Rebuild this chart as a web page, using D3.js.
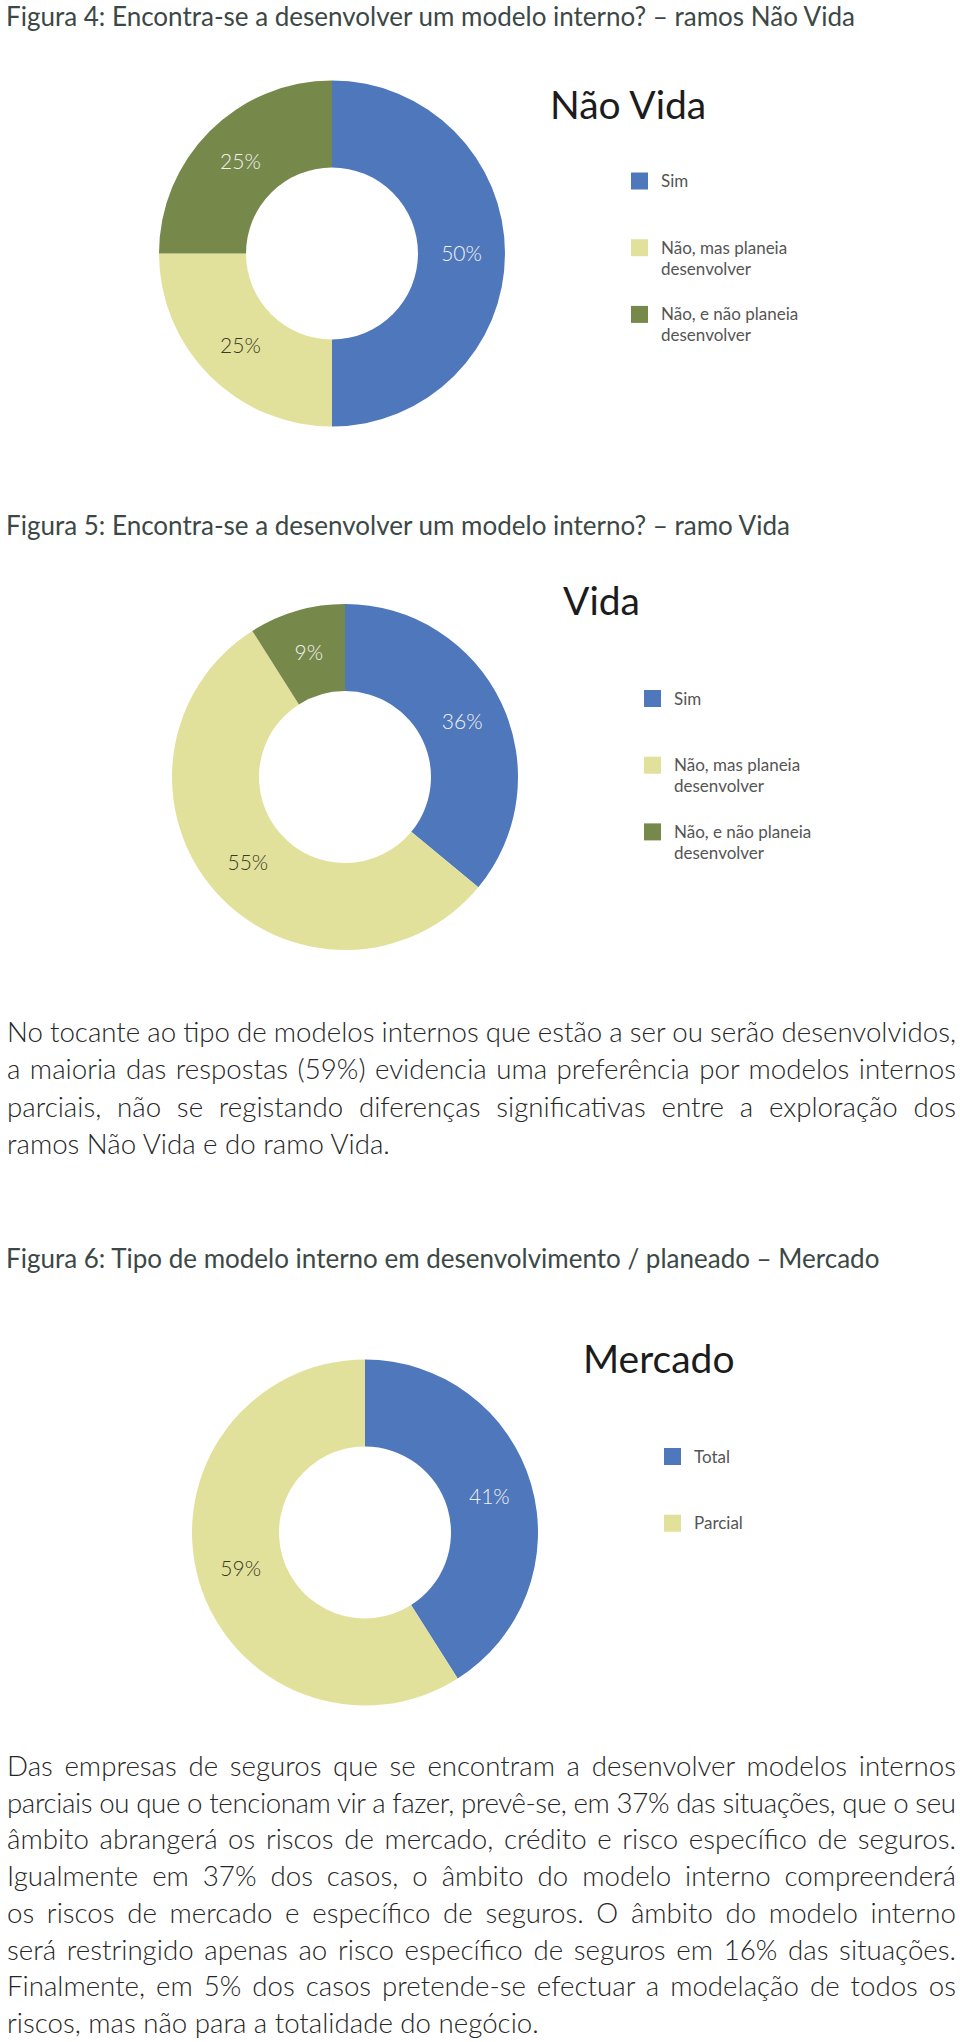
<!DOCTYPE html>
<html>
<head>
<meta charset="utf-8">
<script src="https://cdn.jsdelivr.net/npm/d3@7"></script>
<style>
  body { margin: 0; background: #fff; }
  svg text { font-family: Lato, "Open Sans", sans-serif; }
</style>
</head>
<body>
<svg id="page" width="960" height="2042"></svg>
<script>
// figure captions and chart titles
const captions = [
  "Figura 4: Encontra-se a desenvolver um modelo interno? – ramos Não Vida",
  "Figura 5: Encontra-se a desenvolver um modelo interno? – ramo Vida",
  "Figura 6: Tipo de modelo interno em desenvolvimento / planeado – Mercado"
];
const chartTitles = ["Não Vida", "Vida", "Mercado"];

// categories + values
const answerCategories = ["Sim", "Não, mas planeia desenvolver", "Não, e não planeia desenvolver"];
const naoVidaValues = [50, 25, 25];
const vidaValues = [36, 55, 9];
const modelCategories = ["Total", "Parcial"];
const mercadoValues = [41, 59];

const colors = ["#4f77bb", "#e2e19b", "#76884a"];

// body text, one entry per printed line
const paragraph1 = [
  "No tocante ao tipo de modelos internos que estão a ser ou serão desenvolvidos,",
  "a maioria das respostas (59%) evidencia uma preferência por modelos internos",
  "parciais, não se registando diferenças significativas entre a exploração dos",
  "ramos Não Vida e do ramo Vida."
];
const paragraph2 = [
  "Das empresas de seguros que se encontram a desenvolver modelos internos",
  "parciais ou que o tencionam vir a fazer, prevê-se, em 37% das situações, que o seu",
  "âmbito abrangerá os riscos de mercado, crédito e risco específico de seguros.",
  "Igualmente em 37% dos casos, o âmbito do modelo interno compreenderá",
  "os riscos de mercado e específico de seguros. O âmbito do modelo interno",
  "será restringido apenas ao risco específico de seguros em 16% das situações.",
  "Finalmente, em 5% dos casos pretende-se efectuar a modelação de todos os",
  "riscos, mas não para a totalidade do negócio."
];

const svg = d3.select("#page");

// scale a font size so that the given text gets the width seen in the print
function fitSize(text, size, weight, target) {
  const t = svg.append("text").attr("font-size", size).attr("font-weight", weight).text(text);
  const w = t.node().getComputedTextLength();
  t.remove();
  return size * target / w;
}

const captionSize = fitSize(captions[0], 24, 400, 849);
const bodySize = fitSize(paragraph1[3], 24, 300, 383);

const captionY = [26, 535, 1268];
svg.selectAll(".caption")
  .data(captions)
  .join("text")
  .attr("class", "caption")
  .attr("x", 6)
  .attr("y", (d, i) => captionY[i])
  .attr("font-size", captionSize)
  .attr("fill", "#3c4846")
  .text(d => d);

// layout of each donut block
const charts = [
  { title: chartTitles[0], cats: answerCategories, values: naoVidaValues, cx: 332, cy: 253.5, titleDy: -134.5, legendDy: -81 },
  { title: chartTitles[1], cats: answerCategories, values: vidaValues, cx: 345, cy: 777, titleDy: -162, legendDy: -87 },
  { title: chartTitles[2], cats: modelCategories, values: mercadoValues, cx: 365, cy: 1532.5, titleDy: -159.5, legendDy: -84.5 }
];

const arc = d3.arc().innerRadius(86).outerRadius(173);
const pie = d3.pie().sort(null).value(d => d.value);

function wrap(textSel, maxW) {
  textSel.each(function () {
    const t = d3.select(this);
    const words = t.text().split(" ");
    t.text(null);
    let line = [];
    let tspan = t.append("tspan").attr("x", 0).attr("dy", 0);
    words.forEach(w => {
      line.push(w);
      tspan.text(line.join(" "));
      if (tspan.node().getComputedTextLength() > maxW && line.length > 1) {
        line.pop();
        tspan.text(line.join(" "));
        line = [w];
        tspan = t.append("tspan").attr("x", 0).attr("dy", 21).text(w);
      }
    });
  });
}

charts.forEach(c => {
  const color = d3.scaleOrdinal().domain(c.cats).range(colors);
  const data = c.cats.map((k, i) => ({ key: k, value: c.values[i] }));
  const g = svg.append("g").attr("transform", `translate(${c.cx},${c.cy})`);

  const arcs = pie(data);
  g.selectAll("path")
    .data(arcs)
    .join("path")
    .attr("d", arc)
    .attr("fill", d => color(d.data.key));

  g.selectAll(".lbl")
    .data(arcs)
    .join("text")
    .attr("class", "lbl")
    .attr("transform", d => `translate(${arc.centroid(d)})`)
    .attr("text-anchor", "middle")
    .attr("dy", "0.36em")
    .attr("font-size", 21)
    .attr("font-weight", 300)
    .attr("fill", d => d3.hsl(color(d.data.key)).l > 0.6 ? "#3a3a28" : "#f2f2f2")
    .text(d => d.data.value + "%");

  g.append("text")
    .attr("x", 218)
    .attr("y", c.titleDy)
    .attr("font-size", 39)
    .attr("fill", "#1c1c1c")
    .text(c.title);

  const leg = g.selectAll(".leg")
    .data(c.cats)
    .join("g")
    .attr("class", "leg")
    .attr("transform", (d, i) => `translate(299,${c.legendDy + i * 66.7})`);

  leg.append("rect")
    .attr("width", 17)
    .attr("height", 17)
    .attr("fill", d => color(d));

  leg.append("text")
    .attr("transform", "translate(30,14.5)")
    .attr("font-size", 17)
    .attr("fill", "#555")
    .text(d => d)
    .call(wrap, 145);
});

// justified body paragraphs
function drawParagraph(lines, y0, step) {
  const left = 7, right = 956;
  svg.append("g")
    .selectAll("text")
    .data(lines)
    .join("text")
    .attr("x", left)
    .attr("y", (d, i) => y0 + i * step)
    .attr("font-size", bodySize)
    .attr("font-weight", 300)
    .attr("fill", "#262626")
    .text(d => d)
    .each(function (d, i) {
      if (i === lines.length - 1) return;
      const natural = this.getComputedTextLength();
      const gaps = d.split(" ").length - 1;
      const ws = (right - left - natural) / gaps;
      if (ws > -2) {
        d3.select(this).attr("word-spacing", ws);
      } else {
        // tight line: squeeze the letters as the print does
        d3.select(this).attr("textLength", right - left).attr("lengthAdjust", "spacing");
      }
    });
}

drawParagraph(paragraph1, 1042, 37.4);
drawParagraph(paragraph2, 1776, 36.7);
</script>
</body>
</html>
